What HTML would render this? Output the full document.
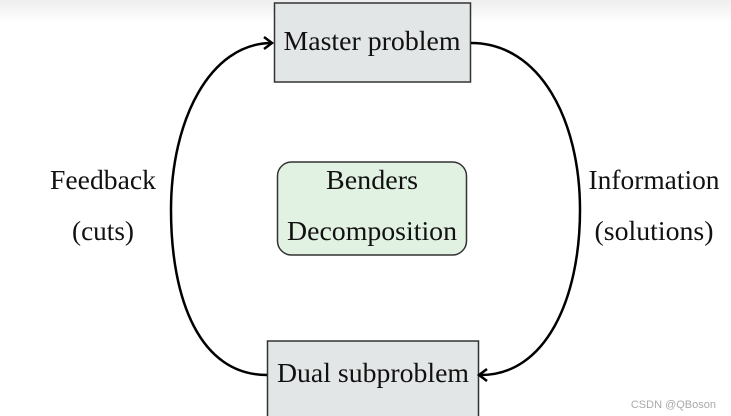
<!DOCTYPE html>
<html><head><style>
html,body{margin:0;padding:0;background:#fff;}
body{width:731px;height:416px;overflow:hidden;position:relative;}
svg{position:absolute;left:0;top:0;}
text{font-family:"Liberation Serif","Times New Roman",serif;font-size:27px;fill:#111;}
</style></head><body>
<svg width="731" height="416" viewBox="0 0 731 416">
<defs><linearGradient id="g" x1="0" y1="0" x2="0" y2="1"><stop offset="0" stop-color="#eeeeee"/><stop offset="1" stop-color="#ffffff"/></linearGradient></defs>
<rect x="0" y="0" width="731" height="22" fill="url(#g)"/>
<rect x="274.5" y="3" width="196" height="79" fill="#e3e6e6" stroke="#333" stroke-width="1.5"/>
<text x="372" y="50" text-anchor="middle" textLength="177" lengthAdjust="spacingAndGlyphs">Master problem</text>
<rect x="267.5" y="341" width="211" height="80" fill="#e3e6e6" stroke="#333" stroke-width="1.5"/>
<text x="373" y="382" text-anchor="middle" textLength="192" lengthAdjust="spacingAndGlyphs">Dual subproblem</text>
<rect x="277.5" y="162" width="189" height="93" rx="14" fill="#e2f2e2" stroke="#333" stroke-width="1.5"/>
<text x="372" y="189" text-anchor="middle" textLength="92" lengthAdjust="spacingAndGlyphs">Benders</text>
<text x="372" y="240" text-anchor="middle" textLength="170" lengthAdjust="spacingAndGlyphs">Decomposition</text>
<text x="103" y="189" text-anchor="middle" textLength="106" lengthAdjust="spacingAndGlyphs">Feedback</text>
<text x="103" y="240" text-anchor="middle" textLength="62" lengthAdjust="spacingAndGlyphs">(cuts)</text>
<text x="654" y="189" text-anchor="middle" textLength="131" lengthAdjust="spacingAndGlyphs">Information</text>
<text x="654" y="240" text-anchor="middle" textLength="119" lengthAdjust="spacingAndGlyphs">(solutions)</text>
<g fill="none" stroke="#000" stroke-width="2.5">
<path d="M267,375 C200,375 171,300 171,210 C171,120 210,43 272,43"/>
<path d="M471,43 C540,43 580,120 580,210 C580,300 545,375 481,375"/>
<path d="M264,37 L272,43 L264,49"/>
<path d="M487,369 L479,375 L487,381"/>
</g>
<text x="716" y="408" text-anchor="end" style="font-family:'Liberation Sans',sans-serif;font-size:11px;fill:#aaa">CSDN @QBoson</text>
</svg>
</body></html>
